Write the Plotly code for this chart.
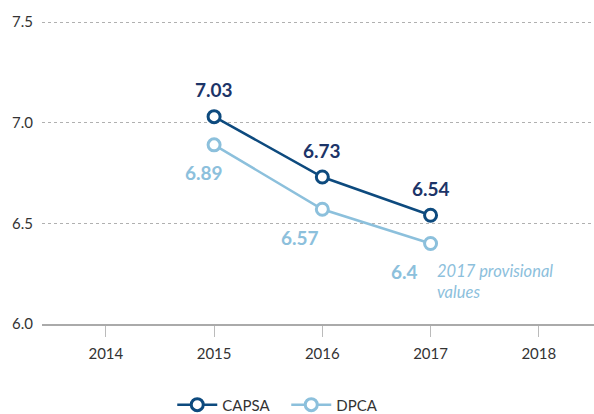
import plotly.graph_objects as go

years = [2015, 2016, 2017]
capsa = [7.03, 6.73, 6.54]
dpca = [6.89, 6.57, 6.40]
x_ticks = [2014, 2015, 2016, 2017, 2018]
y_ticks = [6.0, 6.5, 7.0, 7.5]
y_tick_labels = ["6.0", "6.5", "7.0", "7.5"]

navy = "#0d4a7e"
navy_text = "#1c3468"
light = "#8cc0dc"
font_family = "Lato, 'Open Sans', sans-serif"

fig = go.Figure()
fig.add_trace(go.Scatter(
    x=years, y=capsa, name="CAPSA", mode="lines+markers",
    line=dict(color=navy, width=2.5),
    marker=dict(size=12, color="white", line=dict(color=navy, width=3)),
))
fig.add_trace(go.Scatter(
    x=years, y=dpca, name="DPCA", mode="lines+markers",
    line=dict(color=light, width=2.5),
    marker=dict(size=12, color="white", line=dict(color=light, width=3)),
))

# value labels
for x, v in zip(years, capsa):
    fig.add_annotation(x=x, y=v, text=f"<b>{v:g}</b>", showarrow=False,
                       yshift=27, font=dict(size=19, color=navy_text, family=font_family))
dpca_xshift = [-10, -22, -26]
for x, v, xs in zip(years, dpca, dpca_xshift):
    fig.add_annotation(x=x, y=v, text=f"<b>{v:g}</b>", showarrow=False,
                       xshift=xs, yshift=-28, font=dict(size=19, color=light, family=font_family))

fig.add_annotation(x=2017, y=dpca[-1], text="<i>2017 provisional<br>values</i>",
                   showarrow=False, xanchor="left", yanchor="top", align="left",
                   xshift=4, yshift=-16,
                   font=dict(size=16.5, color=light, family=font_family))

fig.update_layout(
    width=594, height=414,
    margin=dict(l=42, r=0, t=16, b=90, autoexpand=False),
    paper_bgcolor="white", plot_bgcolor="white",
    font=dict(family=font_family, color="#333333", size=15),
    showlegend=True,
    legend=dict(orientation="h", xref="container", x=0.29, xanchor="left",
                yref="container", y=0.022, yanchor="middle",
                font=dict(size=15, color="#333333"), itemwidth=40,
                entrywidth=59, entrywidthmode="pixels"),
    xaxis=dict(range=[2013.41, 2018.51], tickvals=x_ticks, ticktext=[str(t) for t in x_ticks],
               showgrid=False, zeroline=False, showline=True, linecolor="#aaaaaa", linewidth=1.5,
               ticks="outside", ticklen=11, tickcolor="#bbbbbb", tickwidth=1,
               ticklabelstandoff=4,
               tickfont=dict(size=15, color="#333333")),
    yaxis=dict(range=[6.0, 7.53], tickvals=y_ticks, ticktext=y_tick_labels,
               showgrid=True, gridcolor="#b0b0b0", griddash="dot", gridwidth=1,
               zeroline=False, showline=False, ticks="", ticklabelstandoff=8,
               tickfont=dict(size=15, color="#333333")),
)

fig.write_html("out.html")
